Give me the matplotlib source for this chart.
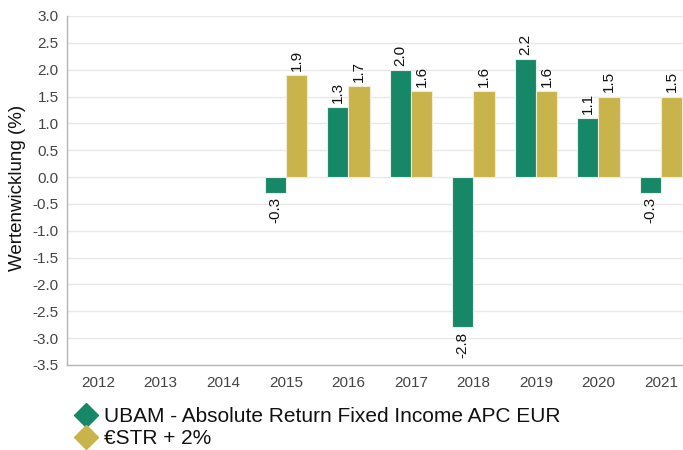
import matplotlib
matplotlib.use("Agg")
import matplotlib.pyplot as plt
from matplotlib.lines import Line2D
import numpy as np

plt.rcParams['font.family'] = ['Liberation Sans', 'DejaVu Sans']

years = ["2012", "2013", "2014", "2015", "2016", "2017", "2018", "2019", "2020", "2021"]
fund = [np.nan, np.nan, np.nan, -0.3, 1.3, 2.0, -2.8, 2.2, 1.1, -0.3]
bench = [np.nan, np.nan, np.nan, 1.9, 1.7, 1.6, 1.6, 1.6, 1.5, 1.5]
fund_name = "UBAM - Absolute Return Fixed Income APC EUR"
bench_name = "€STR + 2%"
yticks = [3.0, 2.5, 2.0, 1.5, 1.0, 0.5, 0.0, -0.5, -1.0, -1.5, -2.0, -2.5, -3.0, -3.5]

green = "#168767"
gold = "#c8b44a"

W, H = 683, 450
fig = plt.figure(figsize=(W / 100, H / 100), dpi=100)
ax = fig.add_axes([67 / W, 1 - 365 / H, 625 / W, (365 - 16) / H])

x = np.arange(len(years))
bw = 0.34
b1 = ax.bar(x - bw / 2, fund, bw, color=green, edgecolor="#e8efe8", linewidth=0.8, zorder=3)
b2 = ax.bar(x + bw / 2, bench, bw, color=gold, edgecolor="#f0ecd8", linewidth=0.8, zorder=3)

for bars, vals in ((b1, fund), (b2, bench)):
    for rect, v in zip(bars, vals):
        if np.isnan(v):
            continue
        cx = rect.get_x() + rect.get_width() / 2
        if v >= 0:
            ax.annotate(f"{v:.1f}", (cx, v), xytext=(0, 3), textcoords="offset points",
                        rotation=90, ha="center", va="bottom", fontsize=11, color="#111111",
                        annotation_clip=False)
        else:
            ax.annotate(f"{v:.1f}", (cx, v), xytext=(0, -3), textcoords="offset points",
                        rotation=90, ha="center", va="top", fontsize=11, color="#111111",
                        annotation_clip=False)

ax.set_xlim(-0.5, len(years) - 0.5)
ax.set_ylim(-3.5, 3.0)
ax.set_yticks(yticks)
ax.set_yticklabels([f"{t:.1f}" for t in yticks])
ax.set_xticks(x)
ax.set_xticklabels(years)
ax.tick_params(axis="both", length=0, labelsize=11, colors="#444444")
ax.tick_params(axis="y", pad=6)
ax.tick_params(axis="x", pad=8)
ax.grid(axis="y", color="#e8e8e8", linewidth=1, zorder=0)
ax.set_axisbelow(True)
for s in ("top", "right"):
    ax.spines[s].set_visible(False)
for s in ("left", "bottom"):
    ax.spines[s].set_color("#b5b5b5")
    ax.spines[s].set_linewidth(1)

fig.text(18 / W, 1 - 188 / H, "Wertenwicklung (%)", rotation=90, ha="center", va="center",
         fontsize=13.5, color="#111111")

handles = [
    Line2D([], [], marker="D", linestyle="none", markersize=12, markerfacecolor=green, markeredgecolor=green),
    Line2D([], [], marker="D", linestyle="none", markersize=12, markerfacecolor=gold, markeredgecolor=gold),
]
fig.legend(handles, [fund_name, bench_name], loc="upper left",
           bbox_to_anchor=(65 / W, 1 - 397 / H), frameon=False, fontsize=15,
           handlelength=1.0, handletextpad=0.35, labelspacing=0.12, borderpad=0,
           labelcolor="#111111")

fig.savefig("out.png", dpi=100)
